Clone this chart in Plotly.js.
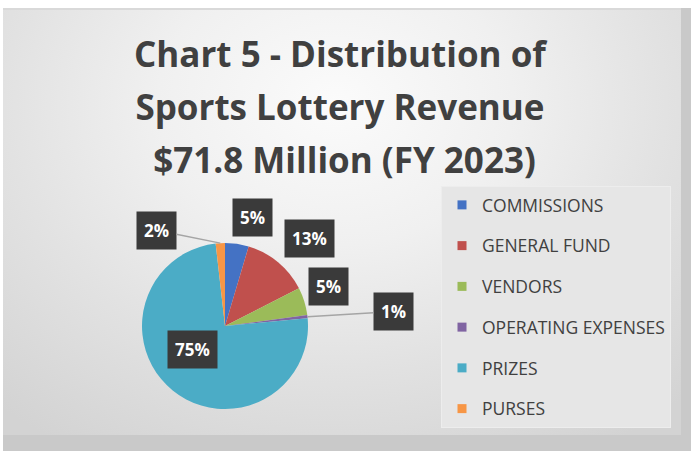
<!DOCTYPE html>
<html>
<head>
<meta charset="utf-8">
<script src="https://cdn.plot.ly/plotly-3.0.1.min.js"></script>
<style>
  html, body { margin: 0; padding: 0; background: #ffffff; }
  #wrap { position: relative; width: 691px; height: 451px; overflow: hidden; background: #ffffff; }
  #shadow { position: absolute; left: 3px; top: 8px; width: 688px; height: 443px; background: #c9c9c9; }
  #panel { position: absolute; left: 3px; top: 8px; width: 678px; height: 425px;
    border-top: 2px solid #d9d9d9;
    background: radial-gradient(ellipse 75% 95% at 49% 22%, #fbfbfb 0%, #f0f0f0 35%, #e2e2e2 65%, #d3d3d3 100%); }
  #chart { position: absolute; left: 0; top: 0; width: 691px; height: 451px; }
</style>
</head>
<body>
<div id="wrap">
  <div id="shadow"></div>
  <div id="panel"></div>
  <div id="chart"></div>
</div>
<script>
// ---- data ----
const categories = ['COMMISSIONS', 'GENERAL FUND', 'VENDORS', 'OPERATING EXPENSES', 'PRIZES', 'PURSES'];
const shares = [4.6, 12.9, 5.4, 0.6, 74.7, 1.8];
const sliceColors = ['#4472C4', '#C0504D', '#9BBB59', '#8064A2', '#4BACC6', '#F79646'];
const titleLines = ['Chart 5 - Distribution of', 'Sports Lottery Revenue', ' $71.8 Million (FY 2023)'];

// ---- layout constants (style/position, not data) ----
const W = 691, H = 451;
const CX = 225, CY = 326, R = 83;               // pie centre / radius in px
const labelOffsets = [[16, -26], [31, -24], [24, -15], [86, -5], [20, -41], [-64, -13]];
const leaderLines = [false, false, false, true, false, true];

const total = shares.reduce((a, b) => a + b, 0);

// pie trace
const pie = {
  type: 'pie',
  labels: categories,
  values: shares,
  sort: false,
  direction: 'clockwise',
  rotation: 0,
  marker: { colors: sliceColors, line: { width: 0 } },
  textinfo: 'none',
  showlegend: false,
  hoverinfo: 'label+percent',
  domain: { x: [(CX - R) / W, (CX + R) / W], y: [1 - (CY + R) / H, 1 - (CY - R) / H] }
};

// legend entries (one per category)
const legendTraces = categories.map((c, i) => ({
  type: 'scatter', mode: 'markers', x: [null], y: [null],
  name: c, legendgroup: 'g' + i, showlegend: true,
  marker: { symbol: 'square', size: 9, color: sliceColors[i] },
  hoverinfo: 'skip'
}));

// data labels positioned from slice mid-angles
let cum = 0;
const annotations = shares.map((v, i) => {
  const mid = (cum + v / 2) / total * 2 * Math.PI;
  cum += v;
  const px = CX + R * Math.sin(mid);
  const py = CY - R * Math.cos(mid);
  return {
    xref: 'paper', yref: 'paper', x: px / W, y: 1 - py / H,
    text: Math.round(v / total * 100) + '%',
    showarrow: true, arrowhead: 0, arrowwidth: 1.5, standoff: 0,
    arrowcolor: leaderLines[i] ? '#a5a5a5' : 'rgba(0,0,0,0)',
    ax: labelOffsets[i][0], ay: labelOffsets[i][1],
    bgcolor: '#3a3a3a', borderpad: 7,
    font: { family: 'Open Sans, sans-serif', size: 17, color: '#ffffff', weight: 'bold' }
  };
});

const layout = {
  width: W, height: H,
  margin: { l: 0, r: 0, t: 0, b: 0 },
  paper_bgcolor: 'rgba(0,0,0,0)',
  plot_bgcolor: 'rgba(0,0,0,0)',
  xaxis: { visible: false },
  yaxis: { visible: false },
  title: {
    text: titleLines.map(t => '<span style="font-size:35px">' + t + '</span>').join('<br>'),
    x: 0.492, xanchor: 'center', xref: 'paper',
    y: 0.852, yref: 'container', yanchor: 'top',
    automargin: false,
    font: { family: 'Open Sans, sans-serif', size: 41, color: '#404040', weight: 'bold' }
  },
  showlegend: true,
  legend: {
    x: 441 / W, xanchor: 'left', y: 1 - 186 / H, yanchor: 'top',
    traceorder: 'grouped', tracegroupgap: 15,
    bgcolor: '#e6e6e6', bordercolor: '#ededed', borderwidth: 1,
    font: { family: 'Open Sans, sans-serif', size: 17.5, color: '#404040' }
  },
  annotations: annotations
};

Plotly.newPlot('chart', [pie].concat(legendTraces), layout, { displayModeBar: false, staticPlot: true });
</script>
</body>
</html>
